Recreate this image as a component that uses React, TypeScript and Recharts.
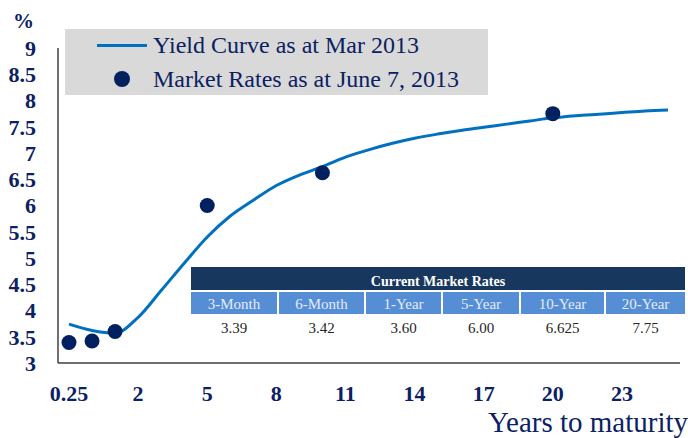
import { LineChart, Line, XAxis, YAxis, Legend } from "recharts";

// maturities in years (category axis, evenly spaced like the source chart)
const terms = [
  "0.25", "0.5", "1", "2", "3", "4", "5", "6", "7", "8", "9", "10", "11", "12",
  "13", "14", "15", "16", "17", "18", "19", "20", "21", "22", "23", "24", "25",
];

// yield curve as at Mar 2013
const curveRates = [
  3.74, 3.62, 3.57, 3.87, 4.38, 4.9, 5.4, 5.8, 6.1, 6.38, 6.58, 6.74, 6.92, 7.06,
  7.18, 7.28, 7.36, 7.43, 7.49, 7.55, 7.61, 7.67, 7.71, 7.74, 7.77, 7.8, 7.82,
];

// market rates as at June 7, 2013
const marketTerms = ["0.25", "0.5", "1", "5", "10", "20"];
const marketRates = [3.39, 3.42, 3.6, 6.0, 6.625, 7.75];

// table under the curve
const tableHeaders = ["3-Month", "6-Month", "1-Year", "5-Year", "10-Year", "20-Year"];
const tableValues = ["3.39", "3.42", "3.60", "6.00", "6.625", "7.75"];

const yTicks = [3, 3.5, 4, 4.5, 5, 5.5, 6, 6.5, 7, 7.5, 8, 8.5, 9];

const data = terms.map((t, i) => {
  const m = marketTerms.indexOf(t);
  return { term: t, curve: curveRates[i], market: m >= 0 ? marketRates[m] : undefined };
});

const NAVY = "#0b2163";
const SERIF = "'Liberation Serif', 'Times New Roman', serif";
const colWidths = [86, 85, 75, 76, 83, 79];

const LegendBox = () => (
  <div
    style={{
      background: "#d9d9d9",
      width: 423,
      height: 66,
      fontFamily: SERIF,
      fontSize: 24,
      color: NAVY,
      position: "relative",
    }}
  >
    <div style={{ position: "absolute", left: 32, top: 15, width: 50, height: 3, background: "#0070c0" }} />
    <div style={{ position: "absolute", left: 88, top: 2, lineHeight: "28px", whiteSpace: "nowrap" }}>
      Yield Curve as at Mar 2013
    </div>
    <div
      style={{
        position: "absolute", left: 49, top: 42, width: 16, height: 16,
        borderRadius: 8, background: "#002060",
      }}
    />
    <div style={{ position: "absolute", left: 88, top: 36, lineHeight: "28px", whiteSpace: "nowrap" }}>
      Market Rates as at June 7, 2013
    </div>
  </div>
);

export default function App() {
  return (
    <div style={{ position: "relative", width: 688, height: 438, fontFamily: SERIF }}>
      <style>{"body{margin:0}"}</style>
      <LineChart width={688} height={438} data={data} margin={{ top: 48, right: 8, left: 0, bottom: 45 }}>
        <XAxis
          dataKey="term"
          type="category"
          scale="point"
          interval={2}
          padding={{ left: 11, right: 12 }}
          height={30}
          tickLine={false}
          tickMargin={16}
          axisLine={{ stroke: "#404040", strokeWidth: 1.5 }}
          tick={{ fill: NAVY, fontSize: 22, fontWeight: 700, fontFamily: SERIF }}
        />
        <YAxis
          type="number"
          domain={[3, 9]}
          ticks={yTicks}
          interval={0}
          width={58}
          tickLine={false}
          tickMargin={16}
          axisLine={{ stroke: "#404040", strokeWidth: 1.5 }}
          tick={{ fill: NAVY, fontSize: 22, fontWeight: 700, fontFamily: SERIF }}
        />
        <Legend
          layout="horizontal"
          verticalAlign="middle"
          align="center"
          content={() => <LegendBox />}
          wrapperStyle={{ top: 29, left: 65, width: 423, height: 66 }}
        />
        <Line
          dataKey="curve"
          type="monotone"
          stroke="#0070c0"
          strokeWidth={3}
          dot={false}
          activeDot={false}
          isAnimationActive={false}
        />
        <Line
          dataKey="market"
          stroke="none"
          dot={{ r: 7.5, fill: "#002060", stroke: "none" }}
          activeDot={false}
          isAnimationActive={false}
        />
      </LineChart>

      <div style={{ position: "absolute", left: 13, top: 8, fontSize: 21, fontWeight: 700, color: NAVY, lineHeight: "26px" }}>
        %
      </div>
      <div style={{ position: "absolute", left: 488, top: 405, fontSize: 29, color: NAVY, lineHeight: "34px", whiteSpace: "nowrap" }}>
        Years to maturity
      </div>

      <div style={{ position: "absolute", left: 191, top: 267, width: 494 }}>
        <div
          style={{
            background: "#17375e", height: 23, color: "#fff", fontWeight: 700, fontSize: 14,
            textAlign: "center", lineHeight: "30px", overflow: "hidden",
          }}
        >
          Current Market Rates
        </div>
        <div style={{ display: "flex", gap: 2, marginTop: 2 }}>
          {tableHeaders.map((h, i) => (
            <div
              key={h}
              style={{
                width: colWidths[i], height: 22, background: "#558ed5", color: "#e4ecf7",
                fontSize: 15, textAlign: "center", lineHeight: "24px",
              }}
            >
              {h}
            </div>
          ))}
        </div>
        <div style={{ display: "flex", gap: 2 }}>
          {tableValues.map((v, i) => (
            <div
              key={i}
              style={{ width: colWidths[i], color: "#262626", fontSize: 15, textAlign: "center", lineHeight: "28px" }}
            >
              {v}
            </div>
          ))}
        </div>
      </div>
    </div>
  );
}
